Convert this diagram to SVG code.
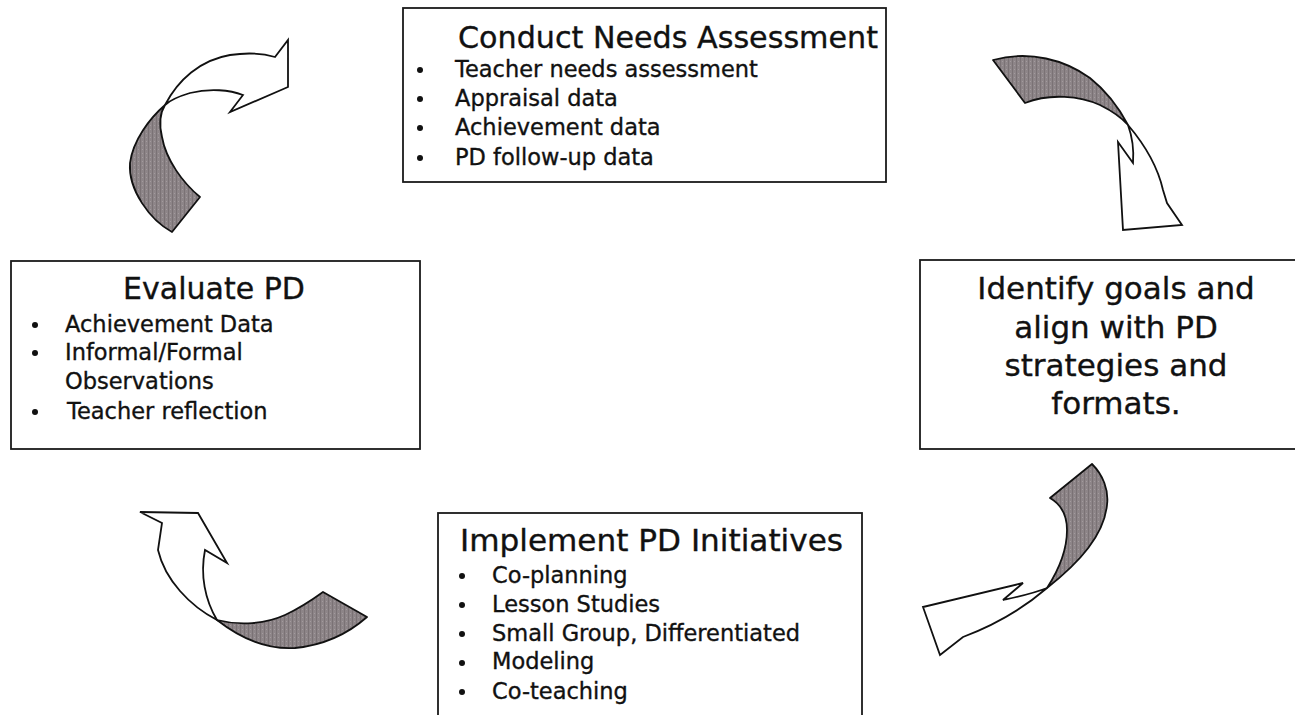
<svg xmlns="http://www.w3.org/2000/svg" width="1295" height="715" viewBox="0 0 1295 715">
  <defs>
    <pattern id="shade" width="4" height="4" patternUnits="userSpaceOnUse">
      <rect width="4" height="4" fill="#8d8588"/>
      <rect x="0" width="1" height="4" fill="#7a7275"/>
      <rect x="2" y="1" width="1" height="1" fill="#a39b9e"/>
    </pattern>
  </defs>
  <style>
    .box { fill: #ffffff; stroke: #1a1a1a; stroke-width: 1.8; }
    text { font-family: "DejaVu Sans", "Liberation Sans", sans-serif; fill: #111; stroke: #111; stroke-width: 0.35; }
    .title { font-size: 30px; }
    .item { font-size: 22.5px; }
    .big { font-size: 31px; text-anchor: middle; }
    .dot { fill: #111; }
    .back { fill: url(#shade); stroke: #111; stroke-width: 1.8; stroke-linejoin: round; }
    .front { fill: #ffffff; stroke: #111; stroke-width: 1.8; stroke-linejoin: miter; }
  </style>
  <rect width="1295" height="715" fill="#ffffff"/>

  <!-- Conduct Needs Assessment -->
  <g id="node-assess">
    <rect class="box" x="403" y="8" width="483" height="174"/>
    <text class="title" x="458" y="48" textLength="420" lengthAdjust="spacingAndGlyphs">Conduct Needs Assessment</text>
    <circle class="dot" cx="420" cy="70" r="3"/>
    <circle class="dot" cx="420" cy="99" r="3"/>
    <circle class="dot" cx="420" cy="128" r="3"/>
    <circle class="dot" cx="420" cy="158" r="3"/>
    <text class="item" x="455" y="77">Teacher needs assessment</text>
    <text class="item" x="455" y="106">Appraisal data</text>
    <text class="item" x="455" y="135">Achievement data</text>
    <text class="item" x="455" y="165">PD follow-up data</text>
  </g>

  <!-- Identify goals -->
  <g id="node-goals">
    <rect class="box" x="920" y="260" width="390" height="189"/>
    <text class="big" x="1116" y="299">Identify goals and</text>
    <text class="big" x="1116" y="338">align with PD</text>
    <text class="big" x="1116" y="376">strategies and</text>
    <text class="big" x="1116" y="414">formats.</text>
  </g>

  <!-- Implement PD Initiatives -->
  <g id="node-implement">
    <rect class="box" x="438" y="513" width="424" height="220"/>
    <text class="title" x="460" y="551" textLength="383" lengthAdjust="spacingAndGlyphs">Implement PD Initiatives</text>
    <circle class="dot" cx="462" cy="576" r="3"/>
    <circle class="dot" cx="462" cy="605" r="3"/>
    <circle class="dot" cx="462" cy="634" r="3"/>
    <circle class="dot" cx="462" cy="663" r="3"/>
    <circle class="dot" cx="462" cy="692" r="3"/>
    <text class="item" x="492" y="583">Co-planning</text>
    <text class="item" x="492" y="612">Lesson Studies</text>
    <text class="item" x="492" y="641">Small Group, Differentiated</text>
    <text class="item" x="492" y="669">Modeling</text>
    <text class="item" x="492" y="699">Co-teaching</text>
  </g>

  <!-- Evaluate PD -->
  <g id="node-evaluate">
    <rect class="box" x="11" y="261" width="409" height="188"/>
    <text class="title" x="214" y="299" text-anchor="middle">Evaluate PD</text>
    <circle class="dot" cx="35" cy="325" r="3"/>
    <circle class="dot" cx="35" cy="353" r="3"/>
    <circle class="dot" cx="35" cy="412" r="3"/>
    <text class="item" x="65" y="332">Achievement Data</text>
    <text class="item" x="65" y="360">Informal/Formal</text>
    <text class="item" x="65" y="389">Observations</text>
    <text class="item" x="67" y="419">Teacher reflection</text>
  </g>

  <!-- Twisted ribbon arrows between the stages -->
  <g id="connectors">
    <!-- Evaluate -> Assess (upper left) -->
    <g id="arrow-evaluate-assess">
      <path class="back" d="M172,232 L200,197 C183,183 166,160 162,137 C159,124 160,113 165,105 C150,118 133,140 130,163 C128,190 150,220 172,232 Z"/>
      <path class="front" d="M165,105 C178,80 200,60 230,55 C250,52 265,54 275,57 L288,40 L288,87 L230,112 L243,95 C230,90 210,88 190,93 C180,96 170,100 165,105 Z"/>
    </g>
    <!-- Assess -> Goals (upper right) -->
    <g id="arrow-assess-goals">
      <path class="back" d="M993,60 L1025,103 C1050,93 1080,96 1100,105 C1112,111 1122,118 1128,125 C1118,106 1105,90 1090,78 C1065,60 1030,50 993,60 Z"/>
      <path class="front" d="M1128,125 C1145,145 1158,168 1163,190 L1167,203 L1182,225 L1123,230 L1118,142 L1133,163 C1134,150 1132,136 1128,125 Z"/>
    </g>
    <!-- Goals -> Implement (lower right) -->
    <g id="arrow-goals-implement">
      <path class="back" d="M1050,498 L1092,464 C1103,475 1109,490 1107,505 C1104,535 1080,562 1047,588 C1060,568 1067,548 1067,530 C1067,515 1062,505 1050,498 Z"/>
      <path class="front" d="M1047,588 C1025,607 995,625 963,637 L940,655 L923,607 L1023,583 L1003,600 C1017,597 1032,594 1047,588 Z"/>
    </g>
    <!-- Implement -> Evaluate (lower left) -->
    <g id="arrow-implement-evaluate">
      <path class="back" d="M323,592 L367,617 C350,632 325,645 295,648 C265,650 240,638 217,620 C240,626 265,624 285,615 C300,608 312,600 323,592 Z"/>
      <path class="front" d="M217,620 C190,606 165,580 158,550 L162,523 L140,512 L198,513 L227,563 L205,550 C200,575 205,600 217,620 Z"/>
    </g>
  </g>
</svg>
